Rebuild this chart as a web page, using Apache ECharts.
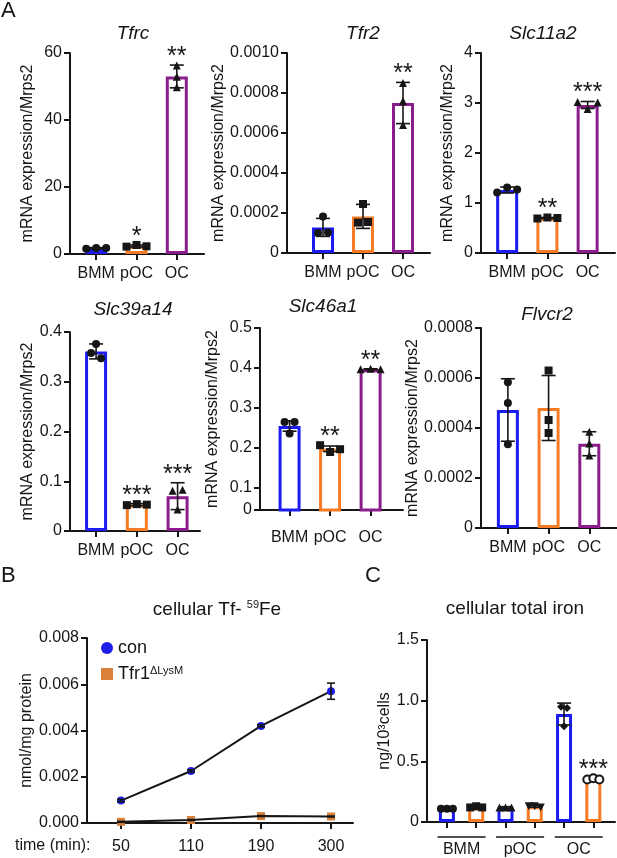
<!DOCTYPE html>
<html>
<head>
<meta charset="utf-8">
<script src="https://cdn.jsdelivr.net/npm/echarts@6.0.0/dist/echarts.min.js"></script>
<style>
html, body { margin: 0; padding: 0; background: #fff; }
#main { width: 617px; height: 858px; }
</style>
</head>
<body>
<div id="main"></div>
<script>
/* qPCR panels (A), Tf-59Fe uptake (B), total iron (C) */
var cats = ['BMM', 'pOC', 'OC'];
var times = ['50', '110', '190', '300'];

// A - mean, sd and the three single values of each group
var tfrcMean = [1.7, 2.4, 53.0];
var tfrcSd = [0.2, 0.3, 3.4];
var tfrcPts = [[1.6, 1.8, 1.8], [2.2, 2.7, 2.3], [56.3, 52.9, 49.8]];
var tfrcSig = ['', '*', '**'];

var tfr2Mean = [0.000128, 0.000183, 0.00075];
var tfr2Sd = [0.000045, 0.00006, 0.000103];
var tfr2Pts = [[0.000182, 0.0001, 0.000102], [0.000245, 0.000152, 0.000155], [0.00085, 0.00076, 0.00064]];
var tfr2Sig = ['', '', '**'];

var slc11Mean = [1.26, 0.70, 2.96];
var slc11Sd = [0.06, 0.01, 0.07];
var slc11Pts = [[1.21, 1.31, 1.27], [0.69, 0.71, 0.70], [3.02, 2.88, 3.01]];
var slc11Sig = ['', '**', '***'];

var slc39Mean = [0.361, 0.053, 0.070];
var slc39Sd = [0.015, 0.002, 0.027];
var slc39Pts = [[0.358, 0.376, 0.347], [0.052, 0.054, 0.053], [0.081, 0.083, 0.043]];
var slc39Sig = ['', '***', '***'];

var slc46Mean = [0.255, 0.198, 0.397];
var slc46Sd = [0.013, 0.007, 0.001];
var slc46Pts = [[0.265, 0.236, 0.265], [0.207, 0.19, 0.197], [0.397, 0.398, 0.397]];
var slc46Sig = ['', '**', '**'];

var flvMean = [0.000472, 0.00048, 0.000337];
var flvSd = [0.000125, 0.00013, 0.000048];
var flvPts = [[0.000583, 0.0005, 0.000335], [0.00063, 0.000432, 0.00038], [0.000385, 0.000338, 0.00029]];
var flvSig = ['', '', ''];

// B - nmol/mg protein
var conTf = [0.00097, 0.00225, 0.0042, 0.0057];
var conTfSd = [0.00005, 0.00005, 0.00005, 0.00035];
var koTf = [0.00005, 0.00013, 0.0003, 0.00028];
var koTfSd = [0.00002, 0.00002, 0.00002, 0.00002];

// C - ng/10^3 cells
var ironCon = [0.11, 0.12, 0.89];
var ironConSd = [0.005, 0.006, 0.09];
var ironConPts = [[0.11, 0.11, 0.11], [0.12, 0.12, 0.12], [0.95, 0.94, 0.79]];
var ironKo = [0.12, 0.13, 0.35];
var ironKoSd = [0.01, 0.008, 0.008];
var ironKoPts = [[0.12, 0.13, 0.12], [0.13, 0.13, 0.12], [0.35, 0.36, 0.35]];
var ironKoSig = ['', '', '***'];

var FONT = "'Liberation Sans', Arial, sans-serif";
var INK = '#161616';
var barColors = ['#1c1cf0', '#f77b25', '#8a1d8b'];
var ptSymbols = ['circle', 'rect', 'triangle'];

var option = {
    animation: false,
    backgroundColor: '#fff',
    textStyle: { fontFamily: FONT },
    title: [], grid: [], xAxis: [], yAxis: [], series: []
};

function fmtPlain(v) { return String(v); }
function fmt4(v) { return v === 0 ? '0' : v.toFixed(4); }
function fmt1(v) { return v === 0 ? '0' : v.toFixed(1); }

// spread overlapping dots sideways (like the prism scatter)
function spread(vals, pxPerUnit, step) {
    var n = vals.length, lab = [], i, j, k;
    for (i = 0; i < n; i++) lab.push(i);
    for (i = 0; i < n; i++) {
        for (j = i + 1; j < n; j++) {
            if (Math.abs(vals[i] - vals[j]) * pxPerUnit < 8) {
                var old = lab[j];
                for (k = 0; k < n; k++) if (lab[k] === old) lab[k] = lab[i];
            }
        }
    }
    var off = [];
    for (i = 0; i < n; i++) {
        var mem = [];
        for (k = 0; k < n; k++) if (lab[k] === lab[i]) mem.push(k);
        off.push((mem.indexOf(i) - (mem.length - 1) / 2) * step);
    }
    return off;
}

function errRender(cap) {
    return function (params, api) {
        var x = api.value(0);
        var lo = api.coord([x, api.value(1)]);
        var hi = api.coord([x, api.value(2)]);
        var st = { stroke: INK, lineWidth: 1.6 };
        return {
            type: 'group',
            children: [
                { type: 'line', shape: { x1: lo[0], y1: lo[1], x2: hi[0], y2: hi[1] }, style: st },
                { type: 'line', shape: { x1: hi[0] - cap, y1: hi[1], x2: hi[0] + cap, y2: hi[1] }, style: st },
                { type: 'line', shape: { x1: lo[0] - cap, y1: lo[1], x2: lo[0] + cap, y2: lo[1] }, style: st }
            ]
        };
    };
}

function starRender(texts) {
    return function (params, api) {
        var p = api.coord([api.value(0), api.value(1)]);
        return {
            type: 'text', x: p[0], y: p[1] - 8,
            style: { text: texts[params.dataIndex], fill: INK, fontSize: 25, fontFamily: FONT, align: 'center', verticalAlign: 'middle' }
        };
    };
}

function addTitle(text, cx, top, size, italic, extra) {
    var t = {
        text: text, left: cx, top: top, padding: 0,
        textStyle: { fontSize: size, fontWeight: 'normal', fontStyle: italic ? 'italic' : 'normal', color: INK, fontFamily: FONT }
    };
    if (cx !== null) t.textAlign = 'center';
    if (extra) for (var key in extra) t[key] = extra[key];
    option.title.push(t);
    return t;
}

function yAxisOf(k, p) {
    var ax = {
        type: 'value', gridIndex: k, min: p.y[0], max: p.y[1],
        name: p.yName, nameLocation: 'middle', nameGap: p.gap,
        nameTextStyle: { fontSize: 16, color: INK, fontFamily: FONT },
        axisLine: { show: true, onZero: false, lineStyle: { color: INK, width: 2 } },
        axisTick: { show: true, length: 6, lineStyle: { color: INK, width: 2 } },
        axisLabel: { fontSize: 16, color: INK, fontFamily: FONT, margin: 8, formatter: p.fmt },
        splitLine: { show: false }
    };
    if (p.yTicks) {
        ax.axisLabel.customValues = p.yTicks;
        ax.axisTick.customValues = p.yTicks;
    } else {
        ax.interval = p.step;
    }
    return ax;
}

function xAxisOf(k, p, ticks, labels, names, margin) {
    return {
        type: 'value', gridIndex: k, min: p.x[0], max: p.x[1],
        axisLine: { show: true, onZero: false, lineStyle: { color: INK, width: 2 } },
        axisTick: { show: true, length: 6, customValues: ticks, lineStyle: { color: INK, width: 2 } },
        axisLabel: {
            customValues: labels, fontSize: 16, color: INK, fontFamily: FONT, margin: margin,
            formatter: function (v) { return names[Math.floor(v + 0.001)]; }
        },
        splitLine: { show: false }
    };
}

// one bar panel: hollow bars + sd + dots + stars
function addBars(k, p, xs, means, sds, pts, sig, colors, symbols, rotates, barW, dotStep, dotSize) {
    var ppu = p.box[3] / (p.y[1] - p.y[0]);
    var barData = [], errData = [], dotData = [], starData = [], starText = [];
    for (var i = 0; i < means.length; i++) {
        barData.push({ value: [xs[i], means[i]], itemStyle: { borderColor: colors[i] } });
        errData.push([xs[i], means[i] - sds[i], means[i] + sds[i]]);
        var off = spread(pts[i], ppu, dotStep);
        var top = means[i] + sds[i];
        for (var j = 0; j < pts[i].length; j++) {
            dotData.push({
                value: [xs[i], pts[i][j]], symbol: symbols[i], symbolOffset: [off[j], 0],
                symbolRotate: rotates ? rotates[i] : 0
            });
            top = Math.max(top, pts[i][j]);
        }
        if (sig[i]) {
            starData.push([xs[i], top]);
            starText.push(sig[i]);
        }
    }
    option.series.push({
        type: 'bar', xAxisIndex: k, yAxisIndex: k, barWidth: barW, barGap: '-100%', data: barData, silent: true, z: 2,
        itemStyle: { color: '#fff', borderWidth: 3 }
    });
    option.series.push({
        type: 'custom', xAxisIndex: k, yAxisIndex: k, data: errData, renderItem: errRender(7), silent: true, z: 3
    });
    option.series.push({
        type: 'scatter', xAxisIndex: k, yAxisIndex: k, data: dotData, symbolSize: dotSize, silent: true, z: 4,
        itemStyle: { color: INK, opacity: 1 }
    });
    if (starData.length) {
        option.series.push({
            type: 'custom', xAxisIndex: k, yAxisIndex: k, data: starData, renderItem: starRender(starText),
            silent: true, z: 5, clip: false
        });
    }
}

var yName = 'mRNA expression/Mrps2';
var panelsA = [
    { t: 'Tfrc', tc: [133, 24], box: [70, 53, 134, 201], x: [-0.65, 2.675], y: [0, 60], step: 20, fmt: fmtPlain, gap: 34,
      lm: 12, mean: tfrcMean, sd: tfrcSd, pts: tfrcPts, sig: tfrcSig },
    { t: 'Tfr2', tc: [363, 24], box: [287, 53, 143, 200], x: [-0.9, 2.675], y: [0, 0.001], step: 0.0002, fmt: fmt4, gap: 40,
      lm: 12, mean: tfr2Mean, sd: tfr2Sd, pts: tfr2Pts, sig: tfr2Sig },
    { t: 'Slc11a2', tc: [543, 24], box: [481, 53, 134, 200], x: [-0.65, 2.68], y: [0, 4], step: 1, fmt: fmtPlain, gap: 25,
      lm: 12, mean: slc11Mean, sd: slc11Sd, pts: slc11Pts, sig: slc11Sig },
    { t: 'Slc39a14', tc: [133, 300], box: [70, 332, 130, 199], x: [-0.64, 2.55], y: [0, 0.4], step: 0.1, fmt: fmt1, gap: 34,
      lm: 12, mean: slc39Mean, sd: slc39Sd, pts: slc39Pts, sig: slc39Sig },
    { t: 'Slc46a1', tc: [323, 297], box: [260, 328, 143, 182], x: [-0.73, 2.8], y: [0.045, 0.5],
      yTicks: [0.045, 0.1, 0.2, 0.3, 0.4, 0.5], fmt: function (v) { return v < 0.05 ? '0' : v.toFixed(1); }, gap: 39,
      lm: 20, mean: slc46Mean, sd: slc46Sd, pts: slc46Pts, sig: slc46Sig },
    { t: 'Flvcr2', tc: [547, 305], box: [481, 328, 136, 200], x: [-0.66, 2.68], y: [0, 0.0008], step: 0.0002, fmt: fmt4, gap: 51,
      lm: 12, mean: flvMean, sd: flvSd, pts: flvPts, sig: flvSig }
];

panelsA.forEach(function (p, k) {
    p.yName = yName;
    option.grid.push({ left: p.box[0], top: p.box[1], width: p.box[2], height: p.box[3] });
    option.xAxis.push(xAxisOf(k, p, [0, 1, 2], [0, 1, 2], cats, p.lm));
    option.yAxis.push(yAxisOf(k, p));
    addTitle(p.t, p.tc[0], p.tc[1], 19, true);
    addBars(k, p, [0, 1, 2], p.mean, p.sd, p.pts, p.sig, barColors, ptSymbols, null, 22, 10, 8);
});

// B - line chart
var pB = { box: [87, 638, 266, 185], x: [-0.486, 3.314], y: [0, 0.008], step: 0.002,
           fmt: function (v) { return v.toFixed(3); }, gap: 52, yName: 'nmol/mg protein' };
option.grid.push({ left: pB.box[0], top: pB.box[1], width: pB.box[2], height: pB.box[3] });
option.xAxis.push(xAxisOf(6, pB, [0, 1, 2, 3], [0, 1, 2, 3], times, 16));
option.yAxis.push(yAxisOf(6, pB));

function lineData(vals) {
    return vals.map(function (v, i) { return [i, v]; });
}
function errData(vals, sds) {
    return vals.map(function (v, i) { return [i, v - sds[i], v + sds[i]]; });
}
option.series.push({
    name: 'con', type: 'line', xAxisIndex: 6, yAxisIndex: 6, data: lineData(conTf), symbol: 'circle', symbolSize: 8,
    lineStyle: { color: INK, width: 2 }, itemStyle: { color: '#1e1ee8' }, z: 3, silent: true
});
option.series.push({
    name: 'Tfr1', type: 'line', xAxisIndex: 6, yAxisIndex: 6, data: lineData(koTf), symbol: 'rect', symbolSize: 8,
    lineStyle: { color: INK, width: 2 }, itemStyle: { color: '#d9803a' }, z: 3, silent: true
});
option.series.push({
    type: 'custom', xAxisIndex: 6, yAxisIndex: 6, data: errData(conTf, conTfSd), renderItem: errRender(4), z: 4, silent: true
});
option.series.push({
    type: 'custom', xAxisIndex: 6, yAxisIndex: 6, data: errData(koTf, koTfSd), renderItem: errRender(4), z: 4, silent: true
});
option.legend = {
    orient: 'vertical', left: 96, top: 634, itemWidth: 12, itemHeight: 12, itemGap: 8, selectedMode: false,
    data: [{ name: 'con', icon: 'circle' }, { name: 'Tfr1', icon: 'rect' }],
    formatter: function (n) { return n === 'Tfr1' ? '{a|Tfr1}{s|ΔLysM}' : '{a|con}'; },
    textStyle: {
        color: INK,
        rich: {
            a: { fontSize: 18, fontFamily: FONT, color: INK },
            s: { fontSize: 11, fontFamily: FONT, color: INK, verticalAlign: 'top', lineHeight: 11 }
        }
    }
};

// C - grouped bars
var pC = { box: [427, 640, 188, 182], x: [-0.34, 2.87], y: [0, 1.5], step: 0.5, fmt: fmt1, gap: 25, yName: 'ng/10³cells' };
option.grid.push({ left: pC.box[0], top: pC.box[1], width: pC.box[2], height: pC.box[3] });
option.xAxis.push(xAxisOf(7, pC, [0, 0.5, 1, 1.5, 2, 2.5], [0.25, 1.25, 2.25], cats, 20));
option.yAxis.push(yAxisOf(7, pC));
addBars(7, pC, [0, 1, 2], ironCon, ironConSd, ironConPts, ['', '', ''], [barColors[0], barColors[0], barColors[0]],
    ['circle', 'triangle', 'diamond'], null, 16, 6, 8);
addBars(7, pC, [0.5, 1.5, 2.5], ironKo, ironKoSd, ironKoPts, ironKoSig, [barColors[1], barColors[1], barColors[1]],
    ['rect', 'triangle', 'emptyCircle'], [0, 180, 0], 16, 6, 8);
// group lines under the axis
option.series.push({
    type: 'custom', xAxisIndex: 7, yAxisIndex: 7, data: [[0], [1], [2]], clip: false, silent: true,
    renderItem: function (params, api) {
        var g = api.value(0);
        var a = api.coord([g - 0.16, 0]);
        var b = api.coord([g + 0.66, 0]);
        return {
            type: 'line', shape: { x1: a[0], y1: a[1] + 15, x2: b[0], y2: b[1] + 15 },
            style: { stroke: INK, lineWidth: 1.6 }
        };
    }
});

// panel titles and letters
addTitle('{a|cellular Tf- }{s|59}{a|Fe}', 217, 599, 19, false, {
    textStyle: {
        fontWeight: 'normal',
        rich: {
            a: { fontSize: 19, fontWeight: 'normal', fontFamily: FONT, color: INK, lineHeight: 22 },
            s: { fontSize: 11, fontWeight: 'normal', fontFamily: FONT, color: INK, verticalAlign: 'top', lineHeight: 11 }
        }
    }
});
addTitle('cellular total iron', 515, 599, 19, false);
addTitle('time (min):', null, 838, 16, false, { left: 15 });
addTitle('A', null, 0, 22, false, { left: 1 });
addTitle('B', null, 565, 22, false, { left: 1 });
addTitle('C', null, 565, 22, false, { left: 365 });

var chart = echarts.init(document.getElementById('main'));
chart.setOption(option);
</script>
</body>
</html>
